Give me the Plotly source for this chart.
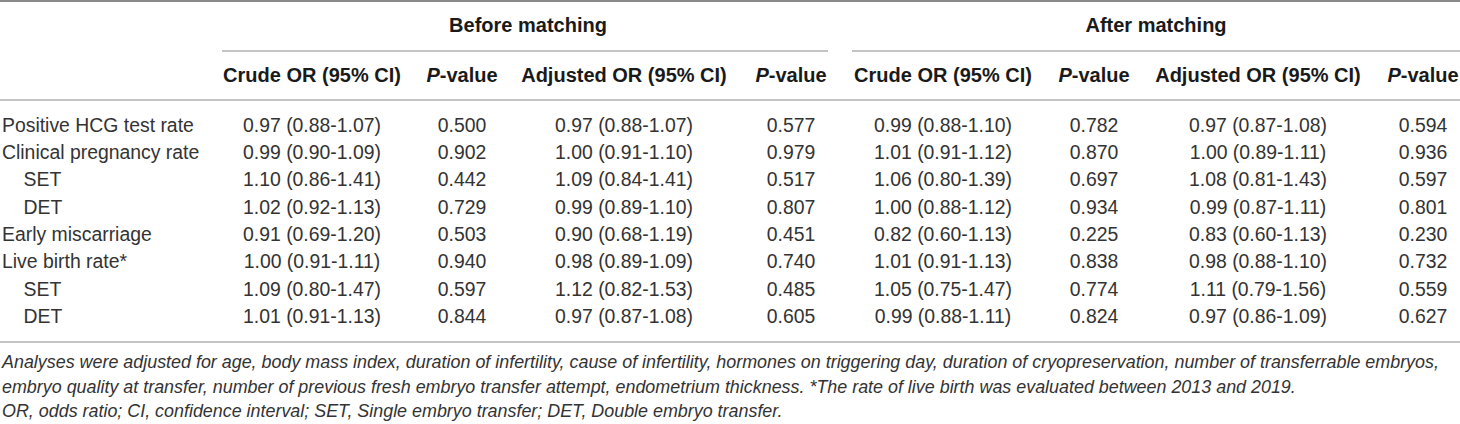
import plotly.graph_objects as go

# row labels (leading spaces give the sub-row indent)
row_labels = ["Positive HCG test rate", "Clinical pregnancy rate", "\u00a0\u00a0\u00a0\u00a0SET",
              "\u00a0\u00a0\u00a0\u00a0DET", "Early miscarriage", "Live birth rate*",
              "\u00a0\u00a0\u00a0\u00a0SET", "\u00a0\u00a0\u00a0\u00a0DET"]

group_titles = ["Before matching", "After matching"]
col_titles = ["Crude OR (95% CI)", "<i>P</i>-value", "Adjusted OR (95% CI)", "<i>P</i>-value"] * 2

# before matching
bm_crude_or = [0.97, 0.99, 1.10, 1.02, 0.91, 1.00, 1.09, 1.01]
bm_crude_lo = [0.88, 0.90, 0.86, 0.92, 0.69, 0.91, 0.80, 0.91]
bm_crude_hi = [1.07, 1.09, 1.41, 1.13, 1.20, 1.11, 1.47, 1.13]
bm_crude_p = [0.500, 0.902, 0.442, 0.729, 0.503, 0.940, 0.597, 0.844]
bm_adj_or = [0.97, 1.00, 1.09, 0.99, 0.90, 0.98, 1.12, 0.97]
bm_adj_lo = [0.88, 0.91, 0.84, 0.89, 0.68, 0.89, 0.82, 0.87]
bm_adj_hi = [1.07, 1.10, 1.41, 1.10, 1.19, 1.09, 1.53, 1.08]
bm_adj_p = [0.577, 0.979, 0.517, 0.807, 0.451, 0.740, 0.485, 0.605]

# after matching
am_crude_or = [0.99, 1.01, 1.06, 1.00, 0.82, 1.01, 1.05, 0.99]
am_crude_lo = [0.88, 0.91, 0.80, 0.88, 0.60, 0.91, 0.75, 0.88]
am_crude_hi = [1.10, 1.12, 1.39, 1.12, 1.13, 1.13, 1.47, 1.11]
am_crude_p = [0.782, 0.870, 0.697, 0.934, 0.225, 0.838, 0.774, 0.824]
am_adj_or = [0.97, 1.00, 1.08, 0.99, 0.83, 0.98, 1.11, 0.97]
am_adj_lo = [0.87, 0.89, 0.81, 0.87, 0.60, 0.88, 0.79, 0.86]
am_adj_hi = [1.08, 1.11, 1.43, 1.11, 1.13, 1.10, 1.56, 1.09]
am_adj_p = [0.594, 0.936, 0.597, 0.801, 0.230, 0.732, 0.559, 0.627]

notes = [
    "Analyses were adjusted for age, body mass index, duration of infertility, cause of infertility, "
    "hormones on triggering day, duration of cryopreservation, number of transferrable embryos,",
    "embryo quality at transfer, number of previous fresh embryo transfer attempt, endometrium thickness. "
    "*The rate of live birth was evaluated between 2013 and 2019.",
    "OR, odds ratio; CI, confidence interval; SET, Single embryo transfer; DET, Double embryo transfer.",
]


def fmt_or(o, lo, hi):
    return [f"{a:.2f} ({b:.2f}-{c:.2f})" for a, b, c in zip(o, lo, hi)]


def fmt_p(p):
    return [f"{v:.3f}" for v in p]


columns = [
    fmt_or(bm_crude_or, bm_crude_lo, bm_crude_hi), fmt_p(bm_crude_p),
    fmt_or(bm_adj_or, bm_adj_lo, bm_adj_hi), fmt_p(bm_adj_p),
    fmt_or(am_crude_or, am_crude_lo, am_crude_hi), fmt_p(am_crude_p),
    fmt_or(am_adj_or, am_adj_lo, am_adj_hi), fmt_p(am_adj_p),
]

# layout (pixel-like axis units)
W, H = 1460, 424
col_x = [312, 462, 624, 791, 943, 1094, 1258, 1423]
group_x = [528, 1156]
group_span = [(222, 828), (852, 1460)]
y_group, y_head, y_row0, row_step = 27, 77, 127, 27.3
y_note0, note_step = 364, 24.3

FONT = "Liberation Sans, Arial, sans-serif"
TXT = "#333333"
BODY = dict(family=FONT, size=19.4, color=TXT)
HEAD = dict(family=FONT, size=20, color="#1a1a1a")
NOTE = dict(family=FONT, size=17.9, color=TXT)

row_y = [y_row0 + i * row_step for i in range(len(row_labels))]

fig = go.Figure()

fig.add_trace(go.Scatter(x=[2] * len(row_labels), y=row_y, text=row_labels, mode="text",
                         textposition="middle right", textfont=BODY, cliponaxis=False))
for cx, vals in zip(col_x, columns):
    fig.add_trace(go.Scatter(x=[cx] * len(vals), y=row_y, text=vals, mode="text",
                             textposition="middle center", textfont=BODY, cliponaxis=False))

fig.add_trace(go.Scatter(x=col_x, y=[y_head] * len(col_x), text=[f"<b>{t}</b>" for t in col_titles],
                         mode="text", textposition="middle center", textfont=HEAD, cliponaxis=False))
fig.add_trace(go.Scatter(x=group_x, y=[y_group] * 2, text=[f"<b>{t}</b>" for t in group_titles],
                         mode="text", textposition="middle center", textfont=HEAD, cliponaxis=False))

fig.add_trace(go.Scatter(x=[2] * len(notes), y=[y_note0 + i * note_step for i in range(len(notes))],
                         text=[f"<i>{n}</i>" for n in notes], mode="text",
                         textposition="middle right", textfont=NOTE, cliponaxis=False))

# rules
rule = dict(type="line", xref="x", yref="y", layer="below")
fig.add_shape(**rule, x0=0, x1=W, y0=1, y1=1, line=dict(color="#8a8a8a", width=2))
for a, b in group_span:
    fig.add_shape(**rule, x0=a, x1=b, y0=51, y1=51, line=dict(color="#b0b0b0", width=1.5))
fig.add_shape(**rule, x0=0, x1=W, y0=100, y1=100, line=dict(color="#b0b0b0", width=1.5))
fig.add_shape(**rule, x0=0, x1=W, y0=342, y1=342, line=dict(color="#b0b0b0", width=1.5))

fig.update_layout(
    width=W, height=H,
    margin=dict(l=0, r=0, t=0, b=0),
    paper_bgcolor="white", plot_bgcolor="white",
    showlegend=False,
    xaxis=dict(range=[0, W], visible=False, fixedrange=True),
    yaxis=dict(range=[H, 0], visible=False, fixedrange=True),
)

fig.write_html("out.html", config={"displayModeBar": False},
               post_script="document.body.style.margin='0';document.body.style.overflow='hidden';")
